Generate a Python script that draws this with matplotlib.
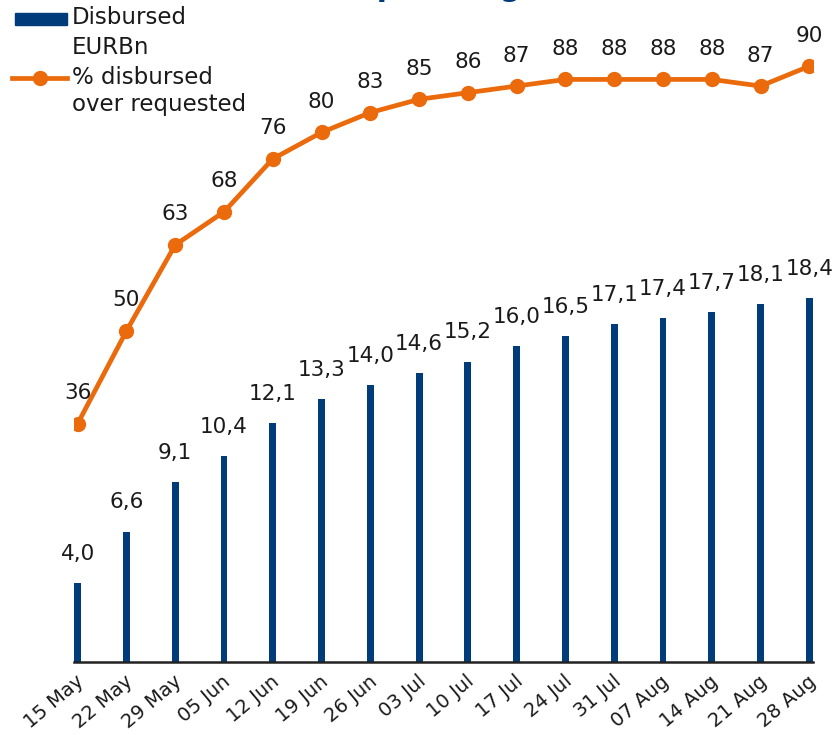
import matplotlib.pyplot as plt
import matplotlib.transforms as mtransforms
from matplotlib.lines import Line2D
from matplotlib.patches import Rectangle

plt.rcParams['font.family'] = ['DejaVu Sans']

dates = ['15 May', '22 May', '29 May', '05 Jun', '12 Jun', '19 Jun', '26 Jun', '03 Jul',
         '10 Jul', '17 Jul', '24 Jul', '31 Jul', '07 Aug', '14 Aug', '21 Aug', '28 Aug']
disbursed = [4.0, 6.6, 9.1, 10.4, 12.1, 13.3, 14.0, 14.6, 15.2, 16.0, 16.5, 17.1, 17.4, 17.7, 18.1, 18.4]
pct_disbursed = [36, 50, 63, 68, 76, 80, 83, 85, 86, 87, 88, 88, 88, 88, 87, 90]

blue = '#003b7a'
orange = '#ea6a0c'
W, H = 840, 735

fig = plt.figure(figsize=(8.4, 7.35), dpi=100)
ax = fig.add_axes([74 / W, 73 / H, 739 / W, 662 / H])
x = list(range(len(dates)))

ax.bar(x, disbursed, width=0.14, color=blue, zorder=2)
for xi, v in zip(x, disbursed):
    ax.annotate(f'{v:.1f}'.replace('.', ','), (xi, v), xytext=(0, 21), textcoords='offset points',
                ha='center', va='center', fontsize=15.5, color='#1a1a1a')
ax.set_ylim(0, 33.5)
ax.set_xlim(-0.075, len(dates) - 1 + 0.075)

ax2 = ax.twinx()
ax2.plot(x, pct_disbursed, color=orange, lw=3.4, marker='o', ms=10, zorder=3)
for xi, v in zip(x, pct_disbursed):
    ax2.annotate(str(v), (xi, v), xytext=(0, 22), textcoords='offset points',
                 ha='center', va='center', fontsize=15.5, color='#1a1a1a')
ax2.set_ylim(0, 100)
ax2.set_yticks([])

for a in (ax, ax2):
    for s in ['top', 'right', 'left']:
        a.spines[s].set_visible(False)
ax.spines['bottom'].set_linewidth(1.8)
ax.spines['bottom'].set_color('#222222')
ax2.spines['bottom'].set_visible(False)

ax.set_yticks([])
ax.set_xticks(x)
ax.set_xticklabels(dates, rotation=40, ha='right', va='top', rotation_mode='anchor',
                   fontsize=14, color='#1a1a1a')
ax.tick_params(axis='x', length=0, pad=7)
offset = mtransforms.ScaledTranslation(-2 / 100, 0, fig.dpi_scale_trans)
for lab in ax.get_xticklabels():
    lab.set_transform(lab.get_transform() + offset)

# legend drawn by hand: handles sit on the first line of each label
fig.patches.append(Rectangle((15 / W, 1 - 25 / H), 52 / W, 12 / H, color=blue,
                             transform=fig.transFigure))
fig.lines.append(Line2D([12 / W, 40 / W, 67 / W], [1 - 78 / H] * 3, color=orange, lw=3.4,
                        marker='o', ms=10, markevery=[1], transform=fig.transFigure))
for ypix, txt in [(18, 'Disbursed'), (47, 'EURBn'), (78, '% disbursed'), (105, 'over requested')]:
    fig.text(72 / W, 1 - ypix / H, txt, ha='left', va='center', fontsize=16.5, color='#1a1a1a')

# title cut off by the top edge, only descenders show
fig.text(521 / W, 1 + 4 / H, 'Disbursements, upholding', ha='right', va='baseline',
         fontsize=21, fontweight='bold', color=blue)

fig.savefig('out.png', dpi=100)
